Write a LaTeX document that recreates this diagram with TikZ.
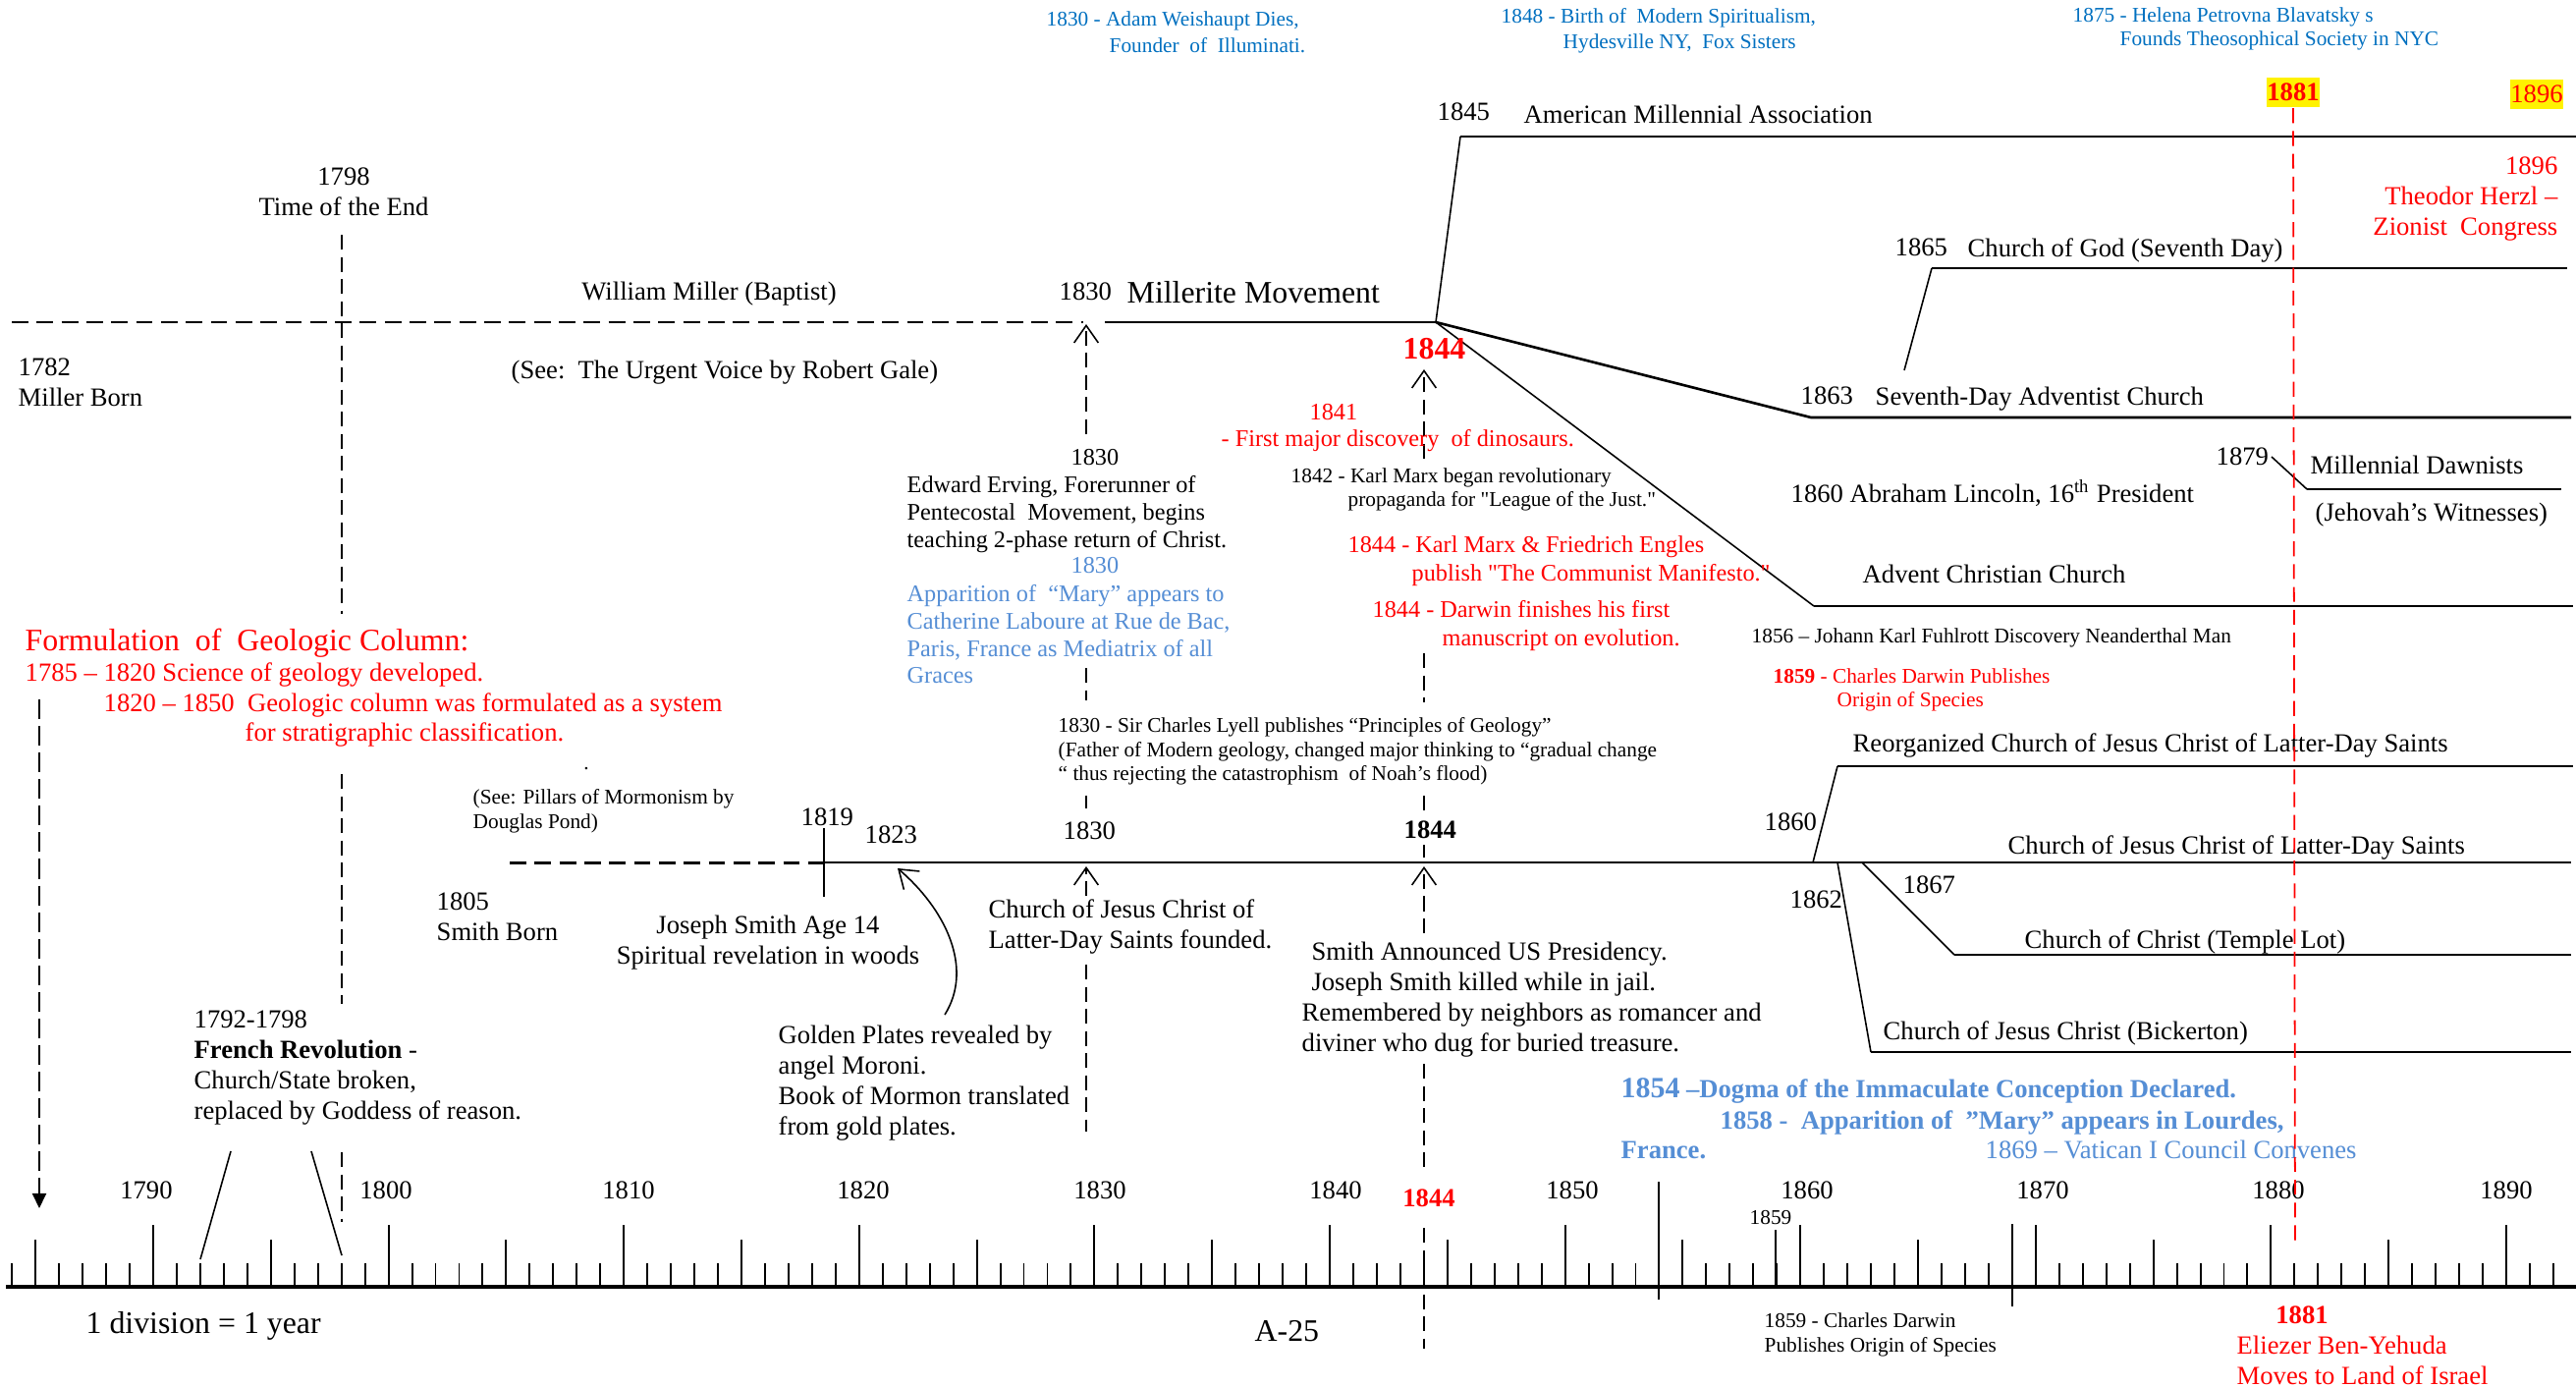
\documentclass[tikz,border=0pt]{standalone}
\usepackage{fontspec}
\setmainfont{Liberation Serif}
\usepackage{tikz}
\usetikzlibrary{arrows.meta}
\definecolor{TopBlue}{RGB}{0,112,192}
\definecolor{SkyBlue}{RGB}{85,142,213}

\begin{document}
\begin{tikzpicture}[x=0.01cm, y=-0.01cm,
txt/.style={inner sep=0pt, font=\fontsize{7.57pt}{8.82pt}\selectfont},
mid/.style={inner sep=0pt, font=\fontsize{6.9pt}{7.85pt}\selectfont},
sml/.style={inner sep=0pt, font=\fontsize{6.06pt}{6.97pt}\selectfont},
big/.style={inner sep=0pt, font=\fontsize{9.05pt}{10pt}\selectfont},
branch/.style={line width=0.75pt},
link/.style={line width=0.45pt},
guide/.style={line width=0.45pt, dash pattern=on 4.3pt off 2.1pt},
era/.style={line width=0.85pt, dash pattern=on 4.8pt off 2.4pt},
tick/.style={line width=0.55pt},
barb/.style={-{Straight Barb[length=5pt,width=7pt]}},
hilite/.style={fill=yellow, inner sep=0pt, minimum width=15.4pt, minimum height=8.8pt}
]
\fill[white] (0,0) rectangle (2623,1412);
\useasboundingbox (0,0) rectangle (2623,1412);

%Coordinates
\coordinate (miller_l) at (12,328);
\coordinate (miller_r) at (1103,328);
\coordinate (millerite_l) at (1125,328);
\coordinate (bp) at (1462,328);
\coordinate (ama_c) at (1487,139);
\coordinate (ama_r) at (2623,139);
\coordinate (cog_b) at (1939,377);
\coordinate (cog_c) at (1967,273);
\coordinate (cog_r) at (2614,273);
\coordinate (sda_c) at (1844,425);
\coordinate (sda_r) at (2618,425);
\coordinate (acc_c) at (1847,617);
\coordinate (acc_r) at (2620,617);
\coordinate (md_b) at (2313,465);
\coordinate (md_c) at (2349,498);
\coordinate (md_r) at (2608,498);
\coordinate (lds_l) at (519,878);
\coordinate (lds_m) at (839,878);
\coordinate (lds_r) at (2618,878);
\coordinate (reorg_b) at (1846,878);
\coordinate (reorg_c) at (1871,780);
\coordinate (reorg_r) at (2620,780);
\coordinate (bick_b) at (1871,878);
\coordinate (bick_c) at (1905,1071);
\coordinate (bick_r) at (2618,1071);
\coordinate (temple_b) at (1896,878);
\coordinate (temple_c) at (1990,972);
\coordinate (temple_r) at (2618,972);
\coordinate (axis_l) at (6,1310);
\coordinate (axis_r) at (2623,1310);

%Axis
\draw[line width=1pt] (axis_l) -- (axis_r);
\foreach \yr in {1784,...,1892}{
  \pgfmathsetmacro\tx{156+(\yr-1790)*23.96}
  \pgfmathsetmacro\tl{mod(\yr,10)==0 ? 63 : (mod(\yr,5)==0 ? 48 : 24)}
  \draw[tick] (\tx,1310) -- (\tx,1310-\tl);
}
\draw[tick] (1689,1203) -- (1689,1323);
\draw[tick] (1808,1252) -- (1808,1310);
\draw[tick] (2049,1246) -- (2049,1330);
\foreach \yr/\lx in {1790/149,1800/393,1810/640,1820/879,1830/1120,1840/1360,1850/1601,1860/1840,1870/2080,1880/2320,1890/2552}
  \node[txt, anchor=base] (lbl_\yr) at (\lx,1220) {\yr};
\node[txt, text=red, anchor=base] (lbl_1844) at (1455,1228) {\textbf{1844}};
\node[sml, anchor=base] (lbl_1859) at (1803,1246) {1859};

%Branches
\draw[era] (miller_l) -- (miller_r);
\draw[branch] (millerite_l) -- (bp);
\draw[link] (bp) -- (ama_c);
\draw[branch] (ama_c) -- (ama_r);
\draw[link] (cog_b) -- (cog_c);
\draw[branch] (cog_c) -- (cog_r);
\draw[branch] (bp) -- (sda_c) -- (sda_r);
\draw[link] (bp) -- (acc_c);
\draw[branch] (acc_c) -- (acc_r);
\draw[link] (md_b) -- (md_c);
\draw[branch] (md_c) -- (md_r);
\draw[era] (lds_l) -- (lds_m);
\draw[branch] (lds_m) -- (lds_r);
\draw[link] (839,843) -- (839,913);
\draw[link] (reorg_b) -- (reorg_c);
\draw[branch] (reorg_c) -- (reorg_r);
\draw[link] (bick_b) -- (bick_c);
\draw[branch] (bick_c) -- (bick_r);
\draw[link] (temple_b) -- (temple_c);
\draw[branch] (temple_c) -- (temple_r);

%Guides
\draw[guide] (348,239) -- (348,625);
\draw[guide] (348,788) -- (348,1022);
\draw[guide] (348,1173) -- (348,1244);
\draw[guide, barb] (1106,442) -- (1106,330);
\draw[guide] (1106,680) -- (1106,713);
\draw[guide] (1106,810) -- (1106,823);
\draw[guide, barb] (1106,912) -- (1106,882);
\draw[guide] (1106,982) -- (1106,1152);
\draw[guide, barb] (1450,467) -- (1450,376);
\draw[guide] (1450,665) -- (1450,715);
\draw[guide] (1450,810) -- (1450,830);
\draw[guide] (1450,860) -- (1450,873);
\draw[guide, barb] (1450,950) -- (1450,882);
\draw[guide] (1450,1083) -- (1450,1195);
\draw[guide] (1450,1250) -- (1450,1373);
\draw[line width=0.6pt, dash pattern=on 5.7pt off 2pt, -{Triangle[length=4.3pt,width=4pt]}] (40,712) -- (40,1230);
\draw[link] (235,1172) -- (204,1282);
\draw[link] (317,1172) -- (348,1278);
\draw[link, barb] (962,1033) .. controls (992,985) and (962,925) .. (914,884);

%Nodes
\node[sml, text=TopBlue, anchor=base west] (weishaupt_a) at (1065,26) {1830 - Adam Weishaupt Dies,};
\node[sml, text=TopBlue, anchor=base west] (weishaupt_b) at (1129,53) {Founder\ \ of\ \ Illuminati.};
\node[sml, text=TopBlue, anchor=base west] (fox_a) at (1528,24) {1848 - Birth of\ \ Modern Spiritualism,};
\node[sml, text=TopBlue, anchor=base west] (fox_b) at (1591,49) {Hydesville NY,\ \ Fox Sisters};
\node[sml, text=TopBlue, anchor=base west] (blavatsky_a) at (2110,22) {1875 - Helena Petrovna Blavatsky s};
\node[sml, text=TopBlue, anchor=base west] (blavatsky_b) at (2158,47) {Founds Theosophical Society in NYC};
\node[txt, hilite, text=red] (hl_1881) at (2335,94) {\textbf{1881}};
\node[txt, hilite, text=red] (hl_1896) at (2583,96) {1896};
\node[txt, text=red, align=right, anchor=north east] (herzl) at (2605,159) {1896\\Theodor Herzl –\\Zionist\ \ Congress};

\node[txt, anchor=base west] (ama_year) at (1463,123) {1845};
\node[txt, anchor=base west] (ama) at (1551,125) {American Millennial Association};
\node[txt, anchor=base west] (cog_year) at (1929,260) {1865};
\node[txt, anchor=base west] (cog) at (2003,261) {Church of God (Seventh Day)};
\node[txt, anchor=base west] (sda_year) at (1833,411) {1863};
\node[txt, anchor=base west] (sda) at (1909,412) {Seventh-Day Adventist Church};
\node[txt, anchor=base west] (md_year) at (2256,473) {1879};
\node[txt, anchor=base west] (md) at (2352,482) {Millennial Dawnists};
\node[txt, anchor=base west] (jw) at (2357,530) {(Jehovah’s Witnesses)};
\node[txt, anchor=base west] (lincoln) at (1823,511) {1860 Abraham Lincoln, 16\textsuperscript{th} President};
\node[txt, anchor=base west] (acc) at (1896,593) {Advent Christian Church};
\node[sml, anchor=base west] (neanderthal) at (1783,654) {1856 – Johann Karl Fuhlrott Discovery Neanderthal Man};
\node[sml, text=red, anchor=base west] (origin_a) at (1805,695) {\textbf{1859} - Charles Darwin Publishes};
\node[sml, text=red, anchor=base west] (origin_b) at (1870,719) {Origin of Species};

\node[txt, align=center, anchor=north] (time_end) at (350,170) {1798\\Time of the End};
\node[txt, anchor=base] (miller) at (722,305) {William Miller (Baptist)};
\node[txt, anchor=base west] (millerite_year) at (1078,305) {1830};
\node[big, anchor=base west] (millerite) at (1147,308) {Millerite Movement};
\node[txt, anchor=base west] (miller_born_a) at (18,382) {1782};
\node[txt, anchor=base west] (miller_born_b) at (18,413) {Miller Born};
\node[txt, anchor=base west] (gale) at (520,385) {(See:\ \ The Urgent Voice by Robert Gale)};
\node[big, text=red, anchor=base west] (great_1844) at (1428,365) {\textbf{1844}};

\node[mid, text=red, anchor=base west] (dino_a) at (1333,427) {1841};
\node[mid, text=red, anchor=base west] (dino_b) at (1243,454) {- First major discovery\ \ of dinosaurs.};
\node[sml, anchor=base west] (marx_a) at (1314,491) {1842 - Karl Marx began revolutionary};
\node[sml, anchor=base west] (marx_b) at (1372,515) {propaganda for \textquotedbl League of the Just.\textquotedbl};
\node[mid, text=red, anchor=base west] (manifesto_a) at (1372,562) {1844 - Karl Marx \& Friedrich Engles};
\node[mid, text=red, anchor=base west] (manifesto_b) at (1437,591) {publish \textquotedbl The Communist Manifesto.\textquotedbl};
\node[mid, text=red, anchor=base west] (darwin_a) at (1397,628) {1844 - Darwin finishes his first};
\node[mid, text=red, anchor=base west] (darwin_b) at (1468,657) {manuscript on evolution.};

\node[mid, anchor=base west] (irving_year) at (1090,473) {1830};
\node[mid, align=left, anchor=north west] (irving) at (923,484) {Edward Erving, Forerunner of\\Pentecostal\ \ Movement, begins\\teaching 2-phase return of Christ.};
\node[mid, text=SkyBlue, anchor=base west] (paris_year) at (1090,583) {1830};
\node[mid, text=SkyBlue, align=left, anchor=north west] (paris) at (923,595) {Apparition of\ \ “Mary” appears to\\Catherine Laboure at Rue de Bac,\\Paris, France as Mediatrix of all\\Graces};

\node[big, text=red, anchor=base west] (geo_title) at (25,662) {Formulation\ \ of\ \ Geologic Column:};
\node[txt, text=red, anchor=base west] (geo_a) at (25,693) {1785 – 1820 Science of geology developed.};
\node[txt, text=red, anchor=base west] (geo_b) at (105,724) {1820 – 1850\ \ Geologic column was formulated as a system};
\node[txt, text=red, anchor=base west] (geo_c) at (249,754) {for stratigraphic classification.};
\node[sml, anchor=base] (dot) at (597,783) {.};

\node[sml, align=left, anchor=north west] (lyell) at (1077,730) {1830 - Sir Charles Lyell publishes “Principles of Geology”\\(Father of Modern geology, changed major thinking to “gradual change\\“ thus rejecting the catastrophism\ \ of Noah’s flood)};
\node[sml, align=left, anchor=north west] (pillars) at (481,803) {(See: Pillars of Mormonism by\\Douglas Pond)};
\node[txt, anchor=base west] (vision_year) at (815,840) {1819};
\node[txt, anchor=base west] (plates_year) at (880,858) {1823};
\node[txt, anchor=base west] (lds_year) at (1082,854) {1830};
\node[txt, anchor=base west] (death_year) at (1429,853) {\textbf{1844}};
\node[txt, anchor=base west] (reorg_year) at (1796,845) {1860};
\node[txt, anchor=base west] (reorg) at (1886,765) {Reorganized Church of Jesus Christ of Latter-Day Saints};
\node[txt, anchor=base west] (lds) at (2044,869) {Church of Jesus Christ of Latter-Day Saints};
\node[txt, anchor=base west] (bick_year) at (1822,924) {1862};
\node[txt, anchor=base west] (temple_year) at (1937,909) {1867};
\node[txt, anchor=base west] (temple) at (2061,965) {Church of Christ (Temple Lot)};
\node[txt, anchor=base west] (bick) at (1917,1058) {Church of Jesus Christ (Bickerton)};

\node[txt, align=left, anchor=north west] (smith_born) at (444,908) {1805\\Smith Born};
\node[txt, align=center, anchor=north] (vision) at (782,931) {Joseph Smith Age 14\\Spiritual revelation in woods};
\node[txt, align=left, anchor=north west] (lds_founded) at (1006,915) {Church of Jesus Christ of\\Latter-Day Saints founded.};
\node[txt, align=left, anchor=north west] (french_rev) at (197,1028) {1792-1798\\\textbf{French Revolution} -\\Church/State broken,\\replaced by Goddess of reason.};
\node[txt, align=left, anchor=north west] (plates) at (792,1043) {Golden Plates revealed by\\angel Moroni.\\Book of Mormon translated\\from gold plates.};
\node[txt, align=left, anchor=north west] (smith_death) at (1325,958) {\hspace*{2.8pt}Smith Announced US Presidency.\\\hspace*{2.8pt}Joseph Smith killed while in jail.\\Remembered by neighbors as romancer and\\diviner who dug for buried treasure.};

\node[txt, text=SkyBlue, anchor=base west] (dogma) at (1650,1117) {\bfseries{\fontsize{8.5pt}{9pt}\selectfont 1854} –Dogma of the Immaculate Conception Declared.};
\node[txt, text=SkyBlue, anchor=base west] (lourdes_a) at (1751,1149) {\bfseries 1858 -\ \ Apparition of\ \ ”Mary” appears in Lourdes,};
\node[txt, text=SkyBlue, anchor=base west] (lourdes_b) at (1650,1179) {\bfseries France.};
\node[txt, text=SkyBlue, anchor=base west] (vatican) at (2021,1179) {1869 – Vatican I Council Convenes};

\node[big, anchor=base west] (scale) at (87,1357) {1 division = 1 year};
\node[big, anchor=base west] (page) at (1277,1365) {A-25};
\node[sml, align=left, anchor=north west] (origin_low) at (1796,1336) {1859 - Charles Darwin\\Publishes Origin of Species};
\node[txt, text=red, anchor=base] (yehuda_year) at (2344,1347) {\textbf{1881}};
\node[txt, text=red, align=left, anchor=north west] (yehuda) at (2277,1359) {Eliezer Ben-Yehuda\\Moves to Land of Israel};

%Marker
\draw[red, line width=0.5pt, dash pattern=on 4.3pt off 2.3pt] (hl_1881.south) -- (2337,1270);
\end{tikzpicture}
\end{document}
